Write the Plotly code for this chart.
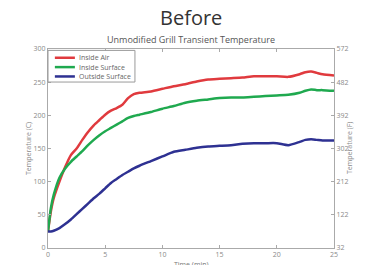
import plotly.graph_objects as go

time_min = [0, 0.25, 0.5, 1, 1.5, 2, 2.5, 3, 3.5, 4, 4.5, 5, 5.5, 6, 6.5, 7, 7.5, 8,
            9, 10, 11, 12, 13, 14, 15, 16, 17, 18, 19, 20, 21, 22, 22.5, 23, 23.5, 24, 25]
inside_air = [25, 55, 75, 100, 122, 140, 150, 163, 175, 185, 193, 201, 207, 211, 216, 226, 232, 234,
              236, 240, 244, 247, 251, 254, 255, 256, 257, 259, 259, 259, 258, 262, 265, 266, 264, 262, 260]
inside_surface = [25, 60, 80, 106, 120, 130, 138, 146, 155, 163, 170, 176, 181, 186, 191, 196, 199, 201,
                  205, 210, 214, 219, 222, 224, 226, 227, 227, 228, 229, 230, 231, 234, 237, 239, 238, 238, 237]
outside_surface = [25, 25, 26, 30, 36, 43, 51, 59, 67, 75, 82, 90, 98, 104, 110, 115, 120, 124,
                   131, 138, 145, 148, 151, 153, 154, 155, 157, 158, 158, 158, 155, 160, 163, 164, 163, 162, 162]

x_ticks = [0, 5, 10, 15, 20, 25]
c_ticks = [0, 50, 100, 150, 200, 250, 300]
f_ticks = [32, 122, 212, 302, 392, 482, 572]

names = ["Inside Air", "Inside Surface", "Outside Surface"]
colors = ["#e03a3e", "#1fa94f", "#2e3192"]
series = [inside_air, inside_surface, outside_surface]

FONT = "Open Sans, sans-serif"

fig = go.Figure()
for n, c, s in zip(names, colors, series):
    fig.add_trace(go.Scatter(x=time_min, y=s, name=n, mode="lines", showlegend=False,
                             line=dict(color=c, width=2.5, shape="spline", smoothing=0.6)))
# invisible trace to activate the right axis
fig.add_trace(go.Scatter(x=[0, 25], y=[32, 572], yaxis="y2", mode="lines",
                         line=dict(width=0), showlegend=False, hoverinfo="skip"))

axis_font = dict(family=FONT, size=7, color="#8a8a8a")

# compact MATLAB-style legend box (paper coordinates)
shapes = [dict(type="rect", xref="paper", yref="paper", x0=0.0, x1=0.304, y0=0.834, y1=0.993,
               line=dict(color="#9a9a9a", width=1), fillcolor="white", layer="above")]
annotations = []
row_y = [0.956, 0.909, 0.862]
for n, c, ry in zip(names, colors, row_y):
    shapes.append(dict(type="line", xref="paper", yref="paper", x0=0.024, x1=0.094, y0=ry, y1=ry,
                       line=dict(color=c, width=2.5), layer="above"))
    annotations.append(dict(text=n, xref="paper", yref="paper", x=0.1, y=ry, xanchor="left",
                            yanchor="middle", showarrow=False,
                            font=dict(family=FONT, size=7, color="#666")))

annotations += [
    dict(text="Before", xref="paper", yref="paper", x=0.5, y=1.0, yanchor="bottom", yshift=17,
         borderpad=0, showarrow=False, font=dict(family=FONT, size=20, color="#333")),
    dict(text="Unmodified Grill Transient Temperature", xref="paper", yref="paper",
         x=0.5, y=1.0, yanchor="bottom", yshift=2, borderpad=0, showarrow=False,
         font=dict(family=FONT, size=9, color="#555")),
    dict(text="Temperature (C)", xref="paper", yref="paper", x=0, xshift=-26, y=0.5,
         textangle=-90, showarrow=False, font=dict(family=FONT, size=7, color="#8a8a8a")),
    dict(text="Temperature (F)", xref="paper", yref="paper", x=1, xshift=22, y=0.5,
         textangle=-90, showarrow=False, font=dict(family=FONT, size=7, color="#8a8a8a")),
    dict(text="Time (min)", xref="paper", yref="paper", x=0.5, y=0, yshift=-10,
         yanchor="top", showarrow=False, font=dict(family=FONT, size=7, color="#777")),
]

fig.update_layout(
    width=366, height=265,
    margin=dict(l=40, r=40, t=41, b=25),
    paper_bgcolor="white", plot_bgcolor="white",
    showlegend=False,
    xaxis=dict(range=[0, 25], tickvals=x_ticks, ticks="inside", ticklen=3,
               tickcolor="#aaa", showline=True, linecolor="#aaa", mirror="ticks",
               showgrid=False, zeroline=False, tickfont=axis_font),
    yaxis=dict(range=[0, 300], tickvals=c_ticks, ticks="inside", ticklen=3,
               tickcolor="#aaa", showline=True, linecolor="#aaa", mirror=True,
               showgrid=False, zeroline=False, tickfont=axis_font),
    yaxis2=dict(range=[32, 572], tickvals=f_ticks, overlaying="y", side="right",
                ticks="inside", ticklen=3, tickcolor="#aaa", showline=True,
                linecolor="#aaa", showgrid=False, zeroline=False, tickfont=axis_font),
    shapes=shapes,
    annotations=annotations,
)

fig.write_html("out.html")
